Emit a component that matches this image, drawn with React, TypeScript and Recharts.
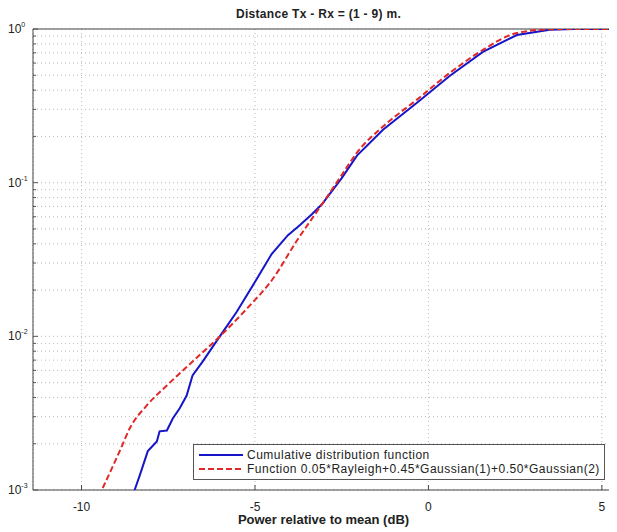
import { LineChart, Line, XAxis, YAxis, CartesianGrid, ReferenceArea } from "recharts";

// measured CDF (blue)
const cdfX = [-8.47, -8.32, -8.09, -7.83, -7.75, -7.54, -7.37, -7.17, -6.97, -6.8, -6.51, -6.02, -5.53, -4.95, -4.52, -4.05, -3.71, -3.36, -3.07, -2.5, -2.06, -1.31, -0.33, 0.62, 1.57, 2.55, 3.5, 4.2, 5.35];
const cdfY = [0.001, 0.00125, 0.00179, 0.00207, 0.00241, 0.00244, 0.00292, 0.0034, 0.00412, 0.00556, 0.00685, 0.00995, 0.0144, 0.0236, 0.0343, 0.0455, 0.0529, 0.0623, 0.0723, 0.107, 0.15, 0.221, 0.331, 0.496, 0.71, 0.914, 0.99, 1, 1];

// fitted function (red dashed)
const fitX = [-9.39, -8.9, -8.61, -8.12, -7.54, -6.8, -6.02, -5.24, -4.49, -3.8, -3.07, -2.5, -2.06, -1.31, -0.33, 0.62, 1.57, 2.55, 3.5, 4.3, 5.35];
const fitY = [0.00103, 0.00179, 0.00252, 0.00355, 0.00479, 0.00685, 0.00995, 0.0151, 0.0236, 0.0417, 0.0723, 0.112, 0.157, 0.232, 0.347, 0.519, 0.731, 0.942, 0.995, 1, 1];

const xTicks = [-10, -5, 0, 5];
const decades = [0.001, 0.01, 0.1, 1];
const yTicks = [0.001, 0.002, 0.003, 0.004, 0.005, 0.006, 0.007, 0.008, 0.009, 0.01, 0.02, 0.03, 0.04, 0.05, 0.06, 0.07, 0.08, 0.09, 0.1, 0.2, 0.3, 0.4, 0.5, 0.6, 0.7, 0.8, 0.9, 1];

const cdfData = cdfX.map((x, i) => ({ x, y: cdfY[i] }));
const fitData = fitX.map((x, i) => ({ x, y: fitY[i] }));

const font = "'Liberation Sans', Arial, sans-serif";

const YTick = (props: any) => {
    const { y, payload } = props;
    const v = payload.value;
    const isDecade = decades.some((d) => Math.abs(d - v) < 1e-9);
    const exp = Math.round(Math.log10(v));
    return (
        <g>
            <line x1={33} y1={y} x2={isDecade ? 38 : 36} y2={y} stroke="#555" />
            {isDecade && (
                <text x={8} y={y + 4} fontSize={12} fill="#222" fontFamily={font}>
                    10
                    <tspan dy={-6} fontSize={7}>{exp}</tspan>
                </text>
            )}
        </g>
    );
};

const LegendBox = () => (
    <div style={{ position: "absolute", left: 193, top: 444, whiteSpace: "nowrap", border: "1px solid #555", background: "#fff", padding: "3px 4px 3px 5px", fontFamily: font, fontSize: 12, letterSpacing: 0.5, color: "#222", lineHeight: "14px" }}>
        <div style={{ display: "flex", alignItems: "center" }}>
            <svg width={48} height={10}><line x1={0} y1={5} x2={44} y2={5} stroke="#1616c8" strokeWidth={2} /></svg>
            <span>Cumulative distribution function</span>
        </div>
        <div style={{ display: "flex", alignItems: "center" }}>
            <svg width={48} height={10}><line x1={0} y1={5} x2={44} y2={5} stroke="#e02828" strokeWidth={2} strokeDasharray="6 3" /></svg>
            <span>Function 0.05*Rayleigh+0.45*Gaussian(1)+0.50*Gaussian(2)</span>
        </div>
    </div>
);

const App = () => {
    return (
        <div style={{ position: "relative", width: 617, height: 532, margin: "-8px 0 0 -8px", background: "#fff" }}>
            <div style={{ position: "absolute", top: 7, left: 28, width: 581, textAlign: "center", fontFamily: font, fontSize: 12, letterSpacing: 0.3, fontWeight: "bold", color: "#222" }}>
                Distance Tx - Rx = (1 - 9) m.
            </div>
            <LineChart width={617} height={532} margin={{ top: 29, right: 3, bottom: 12, left: 3 }}>
                <CartesianGrid stroke="#bbb" strokeDasharray="1 3" />
                <XAxis
                    type="number"
                    dataKey="x"
                    domain={[-11.4, 5.35]}
                    ticks={xTicks}
                    allowDataOverflow
                    height={30}
                    tickLine={{ stroke: "#444" }}
                    tickSize={-5}
                    tickMargin={17}
                    axisLine={false}
                    tick={{ fontSize: 12, fill: "#222", fontFamily: font }}
                />
                <YAxis
                    type="number"
                    dataKey="y"
                    scale="log"
                    domain={[0.001, 1]}
                    ticks={yTicks}
                    allowDataOverflow
                    width={30}
                    tickLine={false}
                    axisLine={false}
                    interval={0}
                    tick={<YTick />}
                />
                <ReferenceArea x1={-11.4} x2={5.35} y1={0.001} y2={1} fill="none" stroke="#444" strokeWidth={1} ifOverflow="visible" />
                <Line data={cdfData} dataKey="y" type="linear" stroke="#1616c8" strokeWidth={2} dot={false} isAnimationActive={false} />
                <Line data={fitData} dataKey="y" type="monotone" stroke="#e02828" strokeWidth={2} strokeDasharray="6 3" dot={false} isAnimationActive={false} />
            </LineChart>
            <LegendBox />
            <div style={{ position: "absolute", top: 512, left: 33, width: 581, textAlign: "center", fontFamily: font, fontSize: 13, fontWeight: "bold", color: "#222" }}>
                Power relative to mean (dB)
            </div>
        </div>
    );
};

export default App;
